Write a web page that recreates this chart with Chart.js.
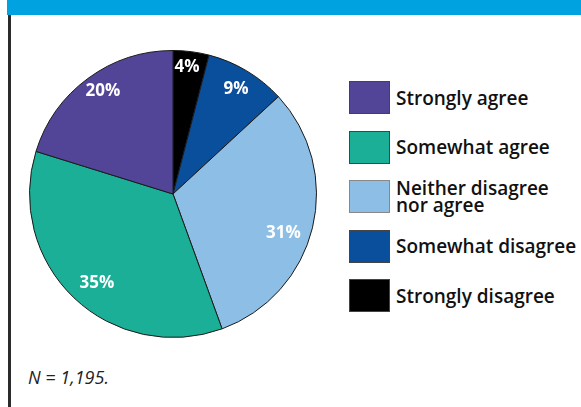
<!DOCTYPE html>
<html><head><meta charset="utf-8">
<script src="https://cdn.jsdelivr.net/npm/chart.js@4.4.1/dist/chart.umd.min.js"></script>
<style>
html,body{margin:0;padding:0;background:#fff;}
#wrap{position:relative;width:581px;height:407px;overflow:hidden;font-family:"Open Sans",sans-serif;}
#topbar{position:absolute;left:7px;top:0;width:574px;height:15px;background:#00a3e0;}
#leftline{position:absolute;left:8px;top:15px;width:3px;height:392px;background:#2b2b2b;}
#pieBox{position:absolute;left:18px;top:39px;width:310px;height:310px;}
#legend{position:absolute;left:349px;top:81px;}
.item{position:absolute;left:0;width:240px;height:33px;}
.sw{position:absolute;left:0;top:0;width:41px;height:33px;border:1px solid #444;box-sizing:border-box;}
.lt{position:absolute;left:47px;top:50%;transform:translateY(-50%);font-weight:600;font-size:19px;line-height:17px;color:#111;white-space:nowrap;}
#note{position:absolute;left:28px;top:365px;font-style:italic;font-size:18px;color:#222;}
</style></head>
<body><div id="wrap">
<div id="topbar"></div><div id="leftline"></div>
<div id="pieBox"><canvas id="c" width="310" height="310"></canvas></div>
<div id="legend"></div>
<div id="note">N = 1,195.</div>
</div>
<script>
// Data (clockwise from 12 o'clock)
const categories = ["Strongly disagree","Somewhat disagree","Neither disagree nor agree","Somewhat agree","Strongly agree"];
const values = [4, 9, 31, 35, 20];
const valueLabels = ["4%","9%","31%","35%","20%"];
const colors = ["#000000","#0a4f9c","#8dbfe6","#1aaf96","#524598"];
// Legend order (top to bottom)
const legendOrder = [4, 3, 2, 1, 0];
const legendLines = {2: ["Neither disagree","nor agree"]};

// label placement style
const labelStyle = {radius:[0.89,0.855,0.815,0.815,0.865], angleShift:[-1,0,5.7,-3,2]};

const labelPlugin = {
  id:'sliceLabels',
  afterDatasetsDraw(chart){
    const ctx = chart.ctx;
    const meta = chart.getDatasetMeta(0);
    ctx.save();
    ctx.fillStyle = '#fff';
    ctx.font = 'bold 17px "Open Sans", sans-serif';
    ctx.textAlign = 'center';
    ctx.textBaseline = 'middle';
    meta.data.forEach((arc,i)=>{
      const p = arc.getProps(['x','y','startAngle','endAngle','outerRadius'], true);
      const mid = (p.startAngle + p.endAngle)/2 + labelStyle.angleShift[i]*Math.PI/180;
      const r = p.outerRadius*labelStyle.radius[i];
      ctx.fillText(valueLabels[i], p.x + Math.cos(mid)*r, p.y + Math.sin(mid)*r);
    });
    ctx.restore();
  }
};

new Chart(document.getElementById('c'), {
  type:'pie',
  data:{labels:categories, datasets:[{data:values, backgroundColor:colors, borderColor:'#1a1a1a', borderWidth:1, hoverOffset:0, radius:143.5}]},
  options:{
    responsive:false, animation:false, events:[],
    layout:{padding:0},
    plugins:{legend:{display:false}, tooltip:{enabled:false}}
  },
  plugins:[labelPlugin]
});

// HTML legend built from data
const legend = document.getElementById('legend');
legendOrder.forEach((idx,row)=>{
  const it = document.createElement('div');
  it.className='item';
  it.style.top = (row*49.5)+'px';
  const sw = document.createElement('div');
  sw.className='sw'; sw.style.background = colors[idx];
  if (idx===2) sw.style.borderColor='#888';
  const lt = document.createElement('div');
  lt.className='lt';
  lt.innerHTML = (legendLines[idx] || [categories[idx]]).join('<br>');
  it.appendChild(sw); it.appendChild(lt);
  legend.appendChild(it);
});
</script>
</body></html>
